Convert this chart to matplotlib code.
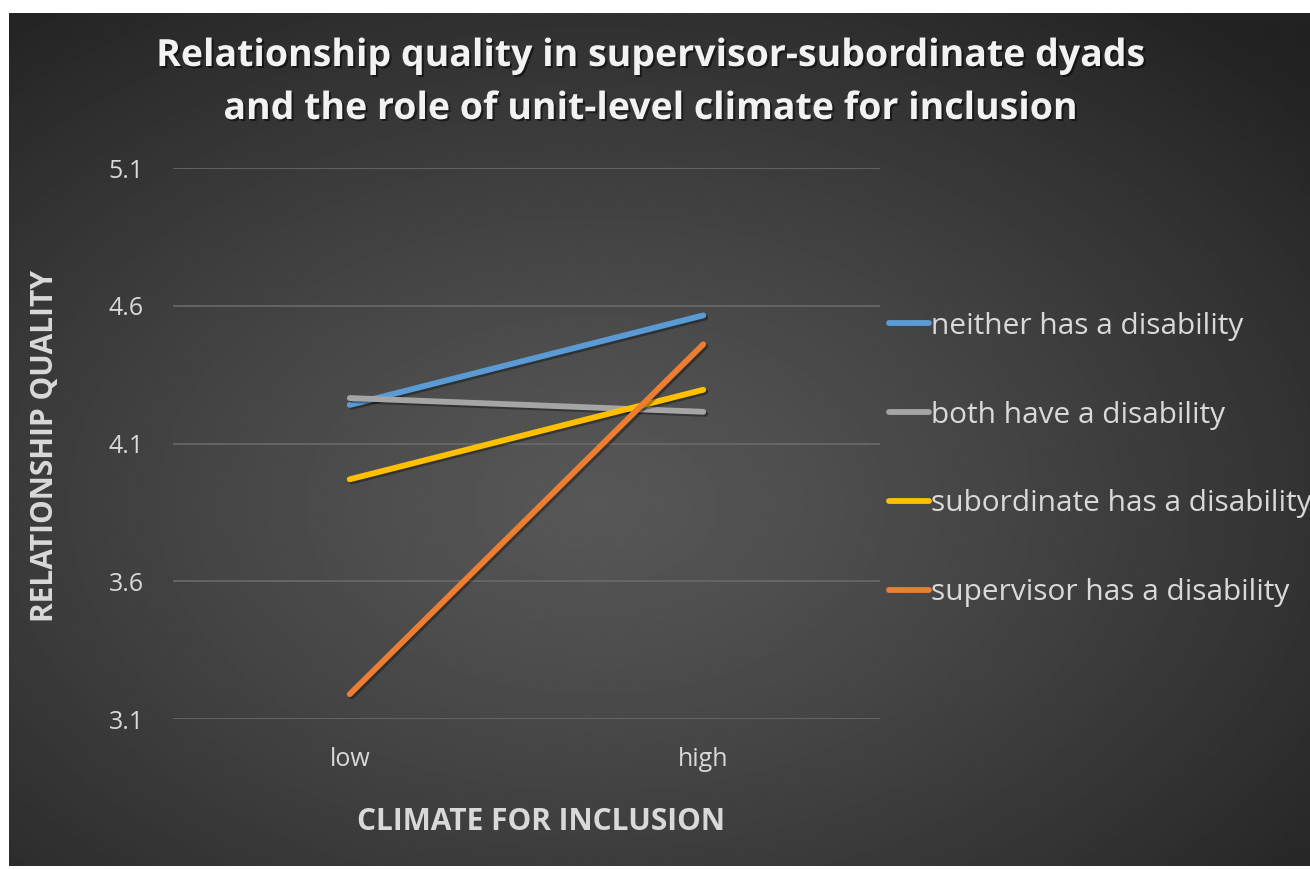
import numpy as np
import matplotlib
matplotlib.use("Agg")
import matplotlib.pyplot as plt
import matplotlib.patheffects as pe

# Data
categories = ["low", "high"]
series_names = [
    "neither has a disability",
    "both have a disability",
    "subordinate has a disability",
    "supervisor has a disability",
]
neither = [4.24, 4.565]
both = [4.265, 4.215]
subordinate = [3.97, 4.295]
supervisor = [3.19, 4.46]
yticks = [3.1, 3.6, 4.1, 4.6, 5.1]

colors = ["#5b9bd5", "#a5a5a5", "#ffc000", "#ed7d31"]
text_col = "#d9d9d9"
plt.rcParams["font.family"] = "Open Sans"

W, H = 1310, 869
fig = plt.figure(figsize=(W / 100, H / 100), dpi=100, facecolor="white")

# radial gradient background (chart area with white margin top/left)
bg = fig.add_axes([9 / W, 3 / H, (W - 9) / W, (H - 16) / H])
bg.set_axis_off()
yy, xx = np.mgrid[0:400, 0:600]
cx, cy = 270, 230
r = np.hypot((xx - cx) / 600, (yy - cy) / 400)
r = np.clip(r / 0.75, 0, 1)
lo, hi = 0x57 / 255, 0x22 / 255
img = lo + (hi - lo) * r ** 1.2
bg.imshow(img, cmap="gray", vmin=0, vmax=1, aspect="auto",
          extent=[0, 1, 0, 1], origin="upper", interpolation="bilinear")
bg.set_xlim(0, 1)
bg.set_ylim(0, 1)

# plot area
x0, x1 = 173, 880
ytop, ybot = 168, 719
ax = fig.add_axes([x0 / W, (H - ybot) / H, (x1 - x0) / W, (ybot - ytop) / H])
ax.patch.set_alpha(0)
for s in ax.spines.values():
    s.set_visible(False)

x = np.arange(len(categories))
shadow = [pe.SimpleLineShadow(offset=(1.5, -1.5), shadow_color="black", alpha=0.35), pe.Normal()]
for name, vals, c in zip(series_names, [neither, both, subordinate, supervisor], colors):
    ax.plot(x, vals, color=c, lw=4.2, solid_capstyle="round", label=name,
            path_effects=shadow, zorder=3)

ax.set_xlim(-0.5, 1.5)
ax.set_ylim(3.1, 5.1)
ax.set_yticks(yticks)
ax.set_yticklabels([f"{v:.1f}" for v in yticks])
ax.set_xticks(x)
ax.set_xticklabels(categories)
ax.grid(axis="y", color="#6a6a6a", lw=1.2)
ax.set_axisbelow(True)
ax.tick_params(length=0, colors=text_col, labelsize=18)
ax.tick_params(axis="y", pad=21)
ax.tick_params(axis="x", pad=20)

fig.text(45 / W, 1 - 446 / H, "RELATIONSHIP QUALITY", rotation=90, ha="center", va="center",
         color=text_col, fontsize=21.5, fontweight="bold")
fig.text(541 / W, 1 - 822 / H, "CLIMATE FOR INCLUSION", ha="center", va="center",
         color=text_col, fontsize=21.5, fontweight="bold")

title_fx = [pe.withSimplePatchShadow(offset=(1.5, -1.5), shadow_rgbFace="black", alpha=0.5)]
fig.text(650 / W, 1 - 56 / H, "Relationship quality in supervisor-subordinate dyads",
         ha="center", va="center", color="#f2f2f2", fontsize=27, fontweight="bold",
         path_effects=title_fx)
fig.text(650 / W, 1 - 109 / H, "and the role of unit-level climate for inclusion",
         ha="center", va="center", color="#f2f2f2", fontsize=27, fontweight="bold",
         path_effects=title_fx)

leg = ax.legend(loc="upper left", bbox_to_anchor=(862 / W, 1 - 285 / H),
                bbox_transform=fig.transFigure, frameon=False,
                handlelength=1.35, handletextpad=0.05, labelspacing=2.0,
                prop={"size": 21.5})
for t in leg.get_texts():
    t.set_color(text_col)
for h in leg.get_lines():
    h.set_linewidth(4.2)
    h.set_path_effects([])

fig.savefig("out.png", dpi=100, facecolor="white")
